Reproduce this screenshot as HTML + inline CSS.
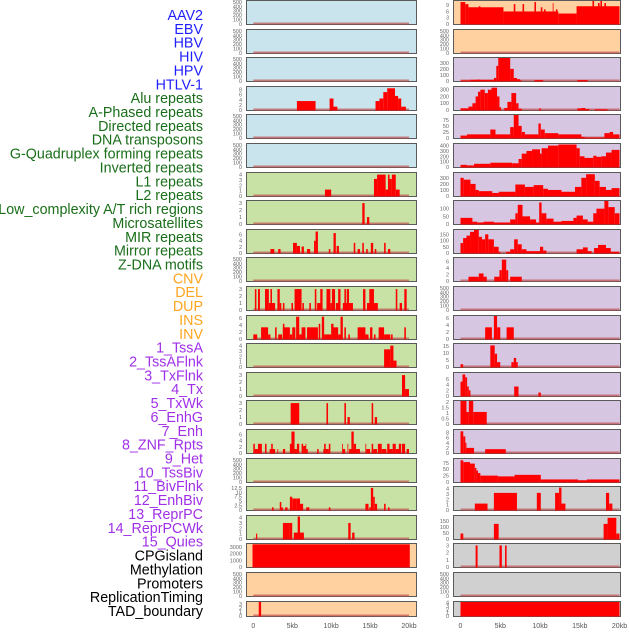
<!DOCTYPE html>
<html><head><meta charset="utf-8"><style>
body{margin:0;background:#fff;width:630px;height:630px;overflow:hidden}
svg text{font-family:"Liberation Sans",sans-serif}
</style></head><body>
<svg id="chart" width="630" height="630" xmlns="http://www.w3.org/2000/svg"></svg>
<script>
// ---- row labels ----
const labels=["AAV2","EBV","HBV","HIV","HPV","HTLV-1","Alu repeats","A-Phased repeats","Directed repeats","DNA transposons","G-Quadruplex forming repeats","Inverted repeats","L1 repeats","L2 repeats","Low_complexity A/T rich regions","Microsatellites","MIR repeats","Mirror repeats","Z-DNA motifs","CNV","DEL","DUP","INS","INV","1_TssA","2_TssAFlnk","3_TxFlnk","4_Tx","5_TxWk","6_EnhG","7_Enh","8_ZNF_Rpts","9_Het","10_TssBiv","11_BivFlnk","12_EnhBiv","13_ReprPC","14_ReprPCWk","15_Quies","CPGisland","Methylation","Promoters","ReplicationTiming","TAD_boundary"];
const labelGroups=[6,13,5,15,5];
const groupColors=["#1f1fff","#1a6e1a","#ffa520","#a030e8","#000000"];
// ---- x axis ----
const xTicks=[0,5,10,15,20];
const xTickLabels=["0","5kb","10kb","15kb","20kb"];
const EMPTY_TICKS=[0,100,200,300,400,500];
// ---- left column panels: [yMax, ticks, segments [startKb,endKb,value]] ----
const leftBg=["b","b","b","b","b","b","g","g","g","g","g","g","g","g","g","g","g","g","g","o","o","o"];
const leftMax=[520,520,520,9,520,520,4.3,3.3,7.5,520,3.3,6.5,4.3,3.3,3.3,7.5,520,13,4.3,3450,520,3.5];
const leftTicks=[EMPTY_TICKS,EMPTY_TICKS,EMPTY_TICKS,[0,2,4,6,8],EMPTY_TICKS,EMPTY_TICKS,[0,1,2,3,4],[0,1,2,3],[0,2,4,6],EMPTY_TICKS,[0,1,2,3],[0,2,4,6],[0,1,2,3,4],[0,1,2,3],[0,1,2,3],[0,2,4,6],EMPTY_TICKS,[0,2.5,5,7.5,10,12.5],[0,1,2,3,4],[0,1000,2000,3000],EMPTY_TICKS,[0,1,2,3]];
const leftSegs=[[],[],[],
[[5.6,8.0,3.5],[9.8,10.3,4.5],[10.3,10.8,1.3],[15.7,16.2,3.5],[16.2,16.7,4.5],[16.7,17.2,7],[17.2,18.2,8.5],[18.2,18.6,5.5],[18.6,19.0,4.5],[19.0,19.6,1.3]],
[],[],
[[9.2,10.0,1.2],[15.5,15.9,3.2],[15.9,17.0,4],[17.0,17.3,1.2],[17.3,17.5,4],[17.5,17.8,3.2],[17.8,18.3,4],[18.3,18.8,1.2]],
[[14.0,14.3,3],[14.6,14.9,1]],
[[2.2,2.7,1.3],[3.2,3.5,1.3],[5.1,5.6,3.3],[5.6,6.0,2.3],[6.2,6.5,2.1],[6.9,7.3,1.3],[7.8,8.0,4],[8.0,8.3,7],[9.7,9.9,1.3],[10.3,10.6,6.5],[10.7,11.0,2.3],[12.9,13.1,3.3],[13.4,13.7,1.3],[14.0,14.2,3.3],[14.5,14.7,1.3],[15.1,15.4,3.3],[15.6,15.8,1.3],[16.8,17.0,3.3],[17.3,17.6,1.3]],
[],
[[0.2,0.4,3],[0.6,0.85,3],[1.5,2.0,3],[2.0,2.8,1],[2.2,2.4,3],[3.1,3.4,3],[3.4,3.6,1],[3.8,4.0,1],[4.9,5.1,1],[5.3,6.2,3],[6.3,6.5,1],[7.2,7.4,1],[7.9,8.1,3],[8.2,8.8,1],[8.6,8.9,3],[9.4,9.9,3],[9.9,10.1,1],[10.1,10.5,3],[10.6,11.2,1],[10.9,11.2,3],[11.5,12.2,1],[11.7,11.9,3],[12.0,12.3,3],[12.3,12.8,1],[14.1,14.4,3],[14.6,16.0,1],[14.9,15.5,3],[18.3,18.5,3],[18.8,19.1,1],[19.4,19.7,3]],
[[0,0.5,1.3],[1.0,1.9,3.3],[1.9,2.2,1.3],[2.8,3.0,3.3],[3.2,3.7,1.3],[3.8,4.7,3.3],[3.8,4.0,4.3],[4.7,5.0,1.3],[5.0,5.4,3.3],[5.5,5.9,6.3],[5.9,6.2,1.3],[6.2,6.7,3.3],[6.9,8.3,3.3],[8.4,8.6,4.3],[8.8,9.1,6.3],[9.1,10.0,1.3],[10.0,10.3,4.3],[10.3,10.9,3.3],[10.9,11.2,1.3],[11.2,11.5,6.3],[11.7,11.9,3.3],[12.2,12.4,1.3],[13.4,14.4,3.3],[14.4,14.8,1.3],[15.0,15.3,3.3],[15.5,15.7,1.3],[16.1,16.8,3.3],[16.8,17.6,1.3],[17.7,17.9,1.3],[19.4,19.6,3.3]],
[[16.8,17.6,3.3],[17.6,18.0,4],[18.0,18.4,1.2]],
[[19.1,19.5,3],[19.5,20,1]],
[[4.8,5.9,3],[9.4,9.6,3],[11.7,11.9,3],[12.1,12.4,1],[15.2,15.4,3],[15.6,15.9,1]],
[[0,0.2,3],[0.2,0.6,1.3],[0.6,1.1,3],[1.5,1.7,3],[2.1,2.8,1.3],[2.3,2.5,3],[3.1,3.2,1.3],[3.8,4.1,1.3],[4.7,5.0,3],[4.9,5.3,7],[5.3,5.6,1.3],[5.6,5.9,3],[6.2,6.4,3],[6.4,6.7,2.3],[6.7,6.8,3],[6.8,7.0,1.3],[8.2,8.4,1.3],[9.0,9.7,1.3],[9.1,9.3,3],[9.7,9.9,3],[11.4,11.5,3],[11.5,11.8,1.3],[12.1,12.2,3],[12.3,13.2,1.3],[12.6,12.9,7],[12.9,13.2,3],[13.2,13.7,1.3],[14.4,14.5,3],[14.5,15.0,1.3],[15.2,15.4,3],[15.4,15.9,1.3],[16.0,16.5,3],[16.5,17.1,1.3],[17.2,17.5,3],[17.5,17.9,1.3],[17.9,18.3,3],[18.3,18.8,1.3],[18.7,19.0,3],[19.1,19.5,3],[19.7,20,1.3]],
[],
[[2.4,2.6,1.5],[3.4,3.6,4.5],[3.6,3.8,1.5],[4.1,4.4,1.5],[4.7,5.0,7.5],[5.0,5.6,6.5],[5.6,6.0,6.5],[6.0,6.4,3.5],[6.8,7.2,1.5],[9.7,9.9,1.5],[14.4,14.8,3.5],[14.9,15.1,1.5],[15.1,15.4,12.5],[15.4,15.6,7.5],[15.6,15.9,3.5],[16.8,17.0,3.5],[17.3,17.5,1.5]],
[[0.35,0.5,1],[3.8,4.7,3],[4.7,5.0,3],[5.2,5.8,1.2],[5.7,6.0,4.2],[6.0,6.5,1.2],[12.2,12.5,3],[12.7,13.0,1.2]],
[[-0.1,20.1,3400]],
[],
[[0.7,1.0,3.5]]];
// ---- right column panels ----
const rightBg=["o","o","p","p","p","p","p","p","p","p","p","p","p","p","p","p","p","y","y","y","y","y"];
const rightMax=[11,520,380,340,95,430,380,150,185,7,520,6.5,16.5,8,2.1,9,90,4.3,190,3.2,520,4.2];
const rightTicks=[[0,3,6,9],EMPTY_TICKS,[0,100,200,300],[0,100,200,300],[0,25,50,75],[0,100,200,300,400],[0,100,200,300],[0,50,100],[0,50,100,150],[0,2,4,6],EMPTY_TICKS,[0,2,4,6],[0,5,10,15],[0,2,4,6],[0,0.5,1,1.5,2],[0,2,4,6,8],[0,25,50,75],[0,1,2,3,4],[0,50,100,150],[0,1,2,3],EMPTY_TICKS,[0,1,2,3,4]];
const rightSegs=[
[[0,0.6,10.5],[0.6,1.0,9.5],[1.0,5.4,8],[2.3,2.5,8.5],[5.4,12.3,6],[6.7,6.9,9.5],[7.8,8.0,9.5],[9.3,9.5,10.5],[10.1,10.3,8],[10.5,10.7,7],[11.6,11.7,10],[12.0,12.2,7],[12.3,14.6,5],[14.6,20,8.5],[16.6,16.8,11],[17.3,17.5,10],[17.6,17.8,11],[18.1,18.3,10]],
[],
[[0,1.25,10],[1.25,2.5,20],[2.1,2.4,25],[2.5,4.2,20],[4.2,4.5,50],[4.5,4.75,250],[4.75,6.25,380],[6.25,6.7,200],[6.7,7.1,50],[7.1,7.5,30],[7.5,7.7,10],[9.3,10.4,15],[14.7,16.0,15]],
[[0,1.0,25],[1.0,1.5,50],[1.5,1.9,100],[1.9,2.2,200],[2.2,2.5,270],[2.5,3.05,300],[3.05,3.45,250],[3.45,3.9,300],[3.9,4.6,330],[4.6,4.9,200],[4.9,5.1,40],[5.5,5.9,30],[5.9,6.4,120],[6.4,7.0,250],[7.0,7.3,100],[7.3,7.7,20],[9.9,10.1,25],[14.7,15.2,25],[15.2,15.7,30],[15.7,16.2,15],[16.9,18.5,10]],
[[0,0.8,10],[0.8,3.75,15],[3.75,4.4,35],[4.4,6.25,15],[6.25,6.7,45],[6.7,7.3,95],[7.3,7.7,50],[7.7,8.1,25],[8.1,9.8,15],[9.8,10.1,60],[10.1,10.6,35],[10.6,12.3,20],[12.3,15.2,15],[15.2,15.6,5],[15.6,18.1,2],[18.1,18.75,20],[18.75,19.2,25],[19.2,20,15]],
[[0,0.8,40],[0.8,1.7,30],[1.7,3.75,60],[3.75,6.5,80],[6.5,7.3,70],[7.3,7.7,150],[7.7,8.3,250],[8.3,9.0,300],[9.0,10.0,330],[10.0,10.2,250],[10.2,11.0,350],[11.0,12.3,400],[12.3,14.6,420],[14.6,15.0,350],[15.0,15.6,200],[15.6,16.7,170],[16.7,17.1,210],[17.1,17.7,190],[17.7,18.3,200],[18.3,19.0,270],[19.0,20,320]],
[[0,0.4,300],[0.4,1.25,270],[1.25,1.9,200],[1.9,2.3,100],[2.3,4.0,80],[4.0,4.8,50],[4.8,6.9,70],[6.9,8.1,190],[8.1,9.2,150],[9.2,10.4,180],[10.4,11.0,120],[11.0,12.7,100],[12.7,14.4,70],[14.4,15.2,150],[15.2,15.8,300],[15.8,16.9,360],[16.9,17.5,250],[17.5,18.3,150],[18.3,19.0,100],[19.0,20,130]],
[[0,1.5,40],[1.5,2.1,15],[2.1,2.9,10],[2.9,4.2,15],[4.2,6.25,10],[6.25,6.9,30],[6.9,7.2,70],[7.2,7.8,125],[7.8,8.75,50],[8.75,9.5,30],[9.5,9.9,10],[9.9,10.2,140],[10.2,10.8,70],[10.8,11.7,35],[11.7,12.7,15],[12.7,14.2,20],[14.2,14.6,40],[14.6,15.4,55],[15.4,16.0,30],[16.0,16.7,15],[16.7,17.1,70],[17.1,18.1,100],[18.1,18.6,150],[18.6,19.4,110],[19.4,20,70]],
[[0,0.33,80],[0.33,0.75,120],[0.75,1.2,140],[1.2,1.7,170],[1.7,2.3,185],[2.3,2.7,130],[2.7,3.1,110],[3.1,3.5,150],[3.5,4.2,110],[4.2,4.8,50],[4.8,5.0,10],[5.75,6.25,10],[6.25,6.75,30],[6.75,7.2,110],[7.2,7.7,70],[7.7,8.3,30],[8.3,10.0,15],[10.0,10.4,50],[10.4,10.8,20],[14.6,15.4,30],[15.4,16.0,45],[16.0,16.5,15],[16.8,17.3,40],[17.3,18.3,65],[18.3,18.9,40],[18.9,20,10]],
[[1.0,2.3,1.3],[2.3,2.9,2.3],[2.9,3.3,1.3],[4.25,4.9,1.3],[4.9,5.2,3.3],[5.2,5.75,6.5],[5.75,6.0,3.3],[6.25,7.7,1.3]],
[],
[[3.1,3.95,3.3],[4.2,4.6,6.5],[4.6,5.0,3.3],[5.8,6.7,3.3]],
[[0,0.33,2],[3.75,4.3,15.5],[4.3,4.6,9.5],[4.6,5.0,3.5],[6.4,6.7,3.5],[6.7,7.0,6.5],[7.0,7.2,3.5]],
[[0,0.25,5],[0.25,0.6,7.5],[0.6,0.83,6.5],[0.83,1.04,3.3],[1.04,1.25,2],[6.75,7.3,3.3],[9.8,10.1,1.2]],
[[0,0.75,2.1],[0.75,1.05,1.1],[1.05,1.6,2.1],[1.6,3.3,1.1]],
[[0,0.35,8.5],[0.35,0.6,6.5],[0.6,0.75,4],[0.75,1.7,2],[3.1,5.7,1.5]],
[[0,0.35,85],[0.35,1.2,78],[1.2,1.8,72],[1.8,2.0,55],[2.0,2.2,45],[2.2,2.5,35],[2.5,4.7,25],[4.7,6.8,22],[6.8,10.1,28],[10.1,14.8,10],[14.8,15.9,7],[15.9,20,10]],
[[1.8,3.4,1.2],[4.2,7.1,3.2],[9.6,10.1,3.2],[11.9,12.4,3.2],[12.4,12.7,4.2],[12.7,13.2,1.2],[18.3,18.7,3.2],[18.7,19.1,1.2]],
[[0,0.35,45],[4.2,4.8,125],[18.0,18.5,125],[18.5,19.6,175],[19.6,20,45]],
[[1.9,2.15,3],[4.9,5.2,3],[5.6,5.8,3]],
[],
[[0,20,4.2]]];

const BG={b:"#c9e4ec",g:"#c8e2a5",o:"#ffd0a0",p:"#d6c6e2",y:"#d0d0d0"};
const NS="http://www.w3.org/2000/svg";
const svg=document.getElementById('chart');
function el(tag,attrs,parent){const e=document.createElementNS(NS,tag);for(const k in attrs)e.setAttribute(k,attrs[k]);(parent||svg).appendChild(e);return e;}

// labels
let li=0;
labelGroups.forEach((n,g)=>{for(let i=0;i<n;i++){const t=el('text',{x:203,y:15+li*13.86+5,'text-anchor':'end','font-size':14.3,fill:groupColors[g]});


t.textContent=labels[li];li++;}});

function drawColumn(col,bgs,maxes,ticks,segs,box,x0,x1,tickX){
  for(let i=0;i<bgs.length;i++){
    const top=Math.round(i*28.6);
    const h=(i===bgs.length-1)?16:25;
    const g=el('g',{});
    
    
    el('rect',{x:box[0]+0.5,y:top+0.5,width:box[1]-box[0],height:h-1,fill:BG[bgs[i]],stroke:'#5a5a5a','stroke-width':1},g);
    const yMax=maxes[i];
    const y=v=>top+h-1-(v/yMax)*(h-2);
    const x=kb=>x0+(kb/20)*(x1-x0);
    el('rect',{x:x(0),y:y(0)-1.5,width:x(20)-x(0),height:2,fill:'#c05050','fill-opacity':0.7},g);
    segs[i].forEach(s=>{
      const r=el('rect',{x:x(s[0]),y:y(Math.min(s[2],yMax)),width:Math.max(0.8,x(s[1])-x(s[0])),height:y(0)-y(Math.min(s[2],yMax))+0.5,fill:'#ff0000'},g);
      
      
    });
    ticks[i].forEach(tv=>{
      const t=el('text',{x:tickX,y:y(tv)+2,'text-anchor':'end','font-size':5.5,fill:'#666'},g);
      
      
      t.textContent=tv;
    });
  }
  xTicks.forEach((kb,j)=>{
    const t=el('text',{x:x0+(kb/20)*(x1-x0),y:628,'text-anchor':'middle','font-size':7,fill:'#555'});
    
    
    t.textContent=xTickLabels[j];
  });
}
drawColumn('left',leftBg,leftMax,leftTicks,leftSegs,[246,416],253.3,409,242);
drawColumn('right',rightBg,rightMax,rightTicks,rightSegs,[453,620],460.5,619.5,449);
</script>
</body></html>
